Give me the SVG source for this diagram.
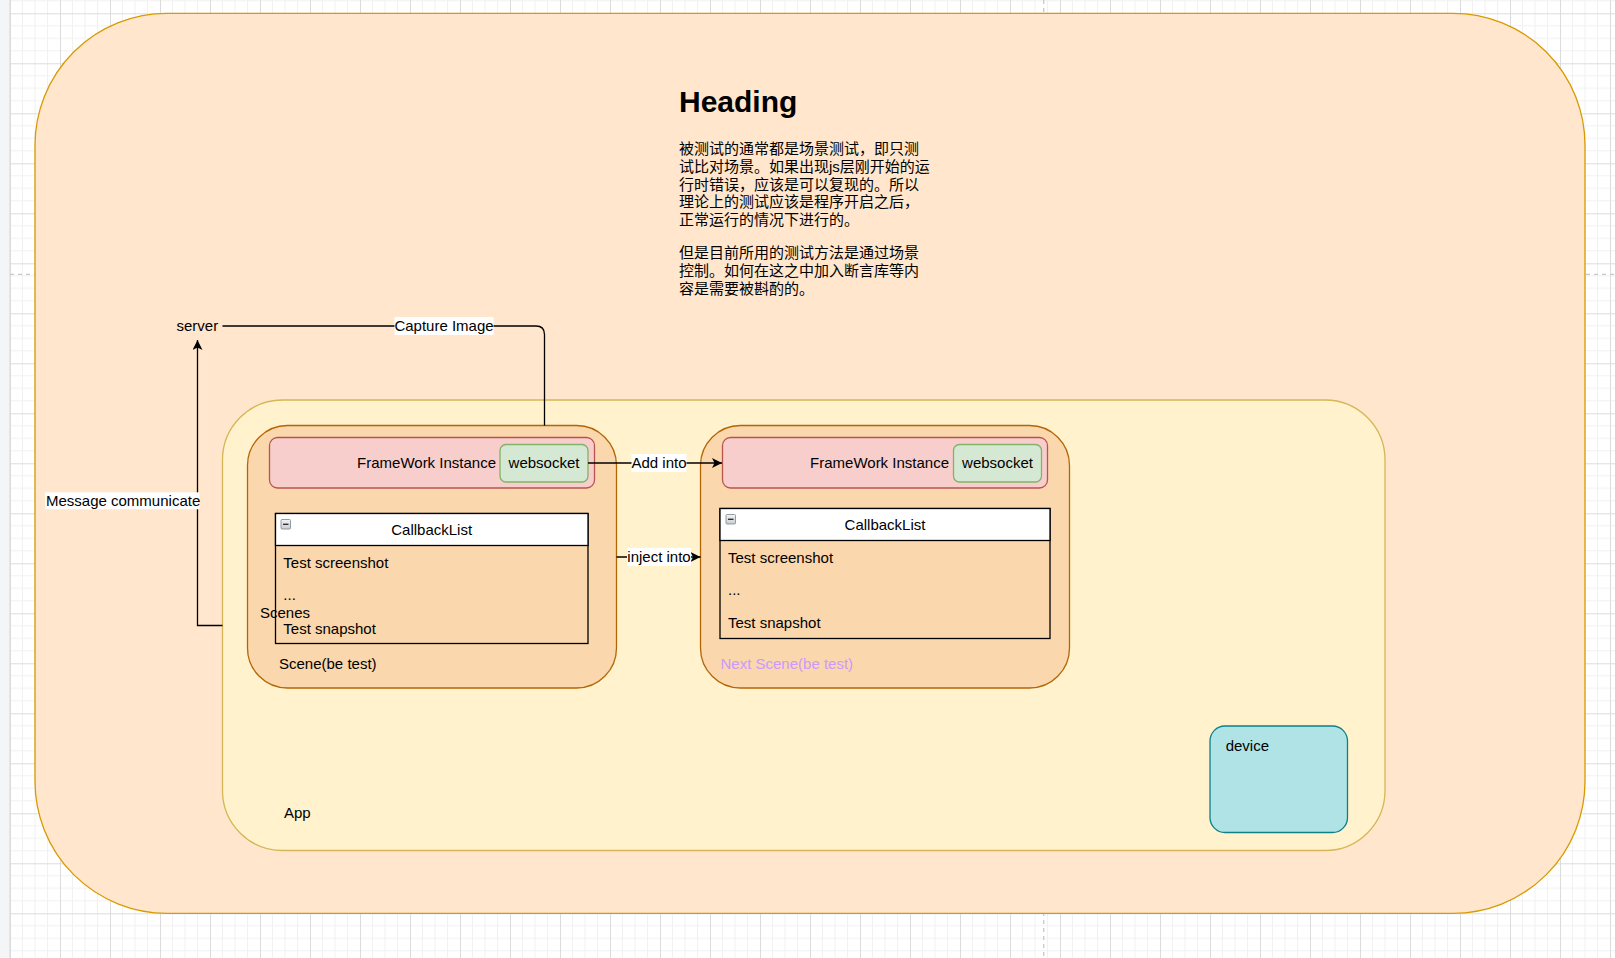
<svg xmlns="http://www.w3.org/2000/svg" width="1615" height="958" viewBox="0 0 1615 958">
<defs>
<pattern id="grid" patternUnits="userSpaceOnUse" x="10" y="13.3" width="50" height="50">
<rect width="50" height="50" fill="#ffffff"/>
<path d="M12.5 0V50M25 0V50M37.5 0V50M0 12.5H50M0 25H50M0 37.5H50" stroke="#f1f1f1" stroke-width="1" fill="none"/>
<path d="M0.5 0V50M0 0.5H50" stroke="#dcdcdc" stroke-width="1" fill="none"/>
</pattern>
<marker id="arr" viewBox="0 0 10 10" refX="10" refY="5" markerWidth="10" markerHeight="10" markerUnits="userSpaceOnUse" orient="auto">
<path d="M0 0L10 5L0 10L2.5 5Z" fill="#000"/>
</marker>
<linearGradient id="icon" x1="0" y1="0" x2="0" y2="1">
<stop offset="0" stop-color="#f4f4f4"/>
<stop offset="1" stop-color="#c8cdd4"/>
</linearGradient>
</defs>
<style>
text{font-family:"Liberation Sans",Arial,sans-serif;font-size:15px;fill:#000}
.cjk{font-family:"Liberation Sans","Noto Sans CJK SC",sans-serif;font-size:15px}
.scene{fill:#fad7ac;stroke:#b46504;stroke-width:1.3}
.fw{fill:#f8cecc;stroke:#b85450;stroke-width:1.3}
.ws{fill:#d5e8d4;stroke:#82b366;stroke-width:1.3}
.list{fill:#fad7ac;stroke:#000;stroke-width:1.3}
.lhead{fill:#ffffff;stroke:#000;stroke-width:1.3}
.edge{fill:none;stroke:#000;stroke-width:1.3}
.lbl{fill:#ffffff}
.pb{stroke:#c8c8c8;stroke-width:1.3;stroke-dasharray:4 4;fill:none}
</style>
<rect x="0" y="0" width="1615" height="958" fill="url(#grid)"/>
<rect x="0" y="0" width="9.5" height="958" fill="#f4f5f6"/>
<line x1="9.5" y1="0" x2="9.5" y2="958" stroke="#e4e6e8" stroke-width="1"/>
<path class="pb" d="M1043.7 0V958M10 274.3H1615"/>

<g id="outer">
<rect x="35" y="13.3" width="1550" height="900" rx="132" ry="132" fill="#ffe6cc" stroke="#d79b00" stroke-width="1.3"/>
</g>

<g id="heading">
<text x="679" y="111.5" style="font-size:30px;font-weight:bold">Heading</text>
<text class="cjk"><tspan x="679" y="153.8">被测试的通常都是场景测试，即只测</tspan><tspan x="679" y="171.6">试比对场景。如果出现js层刚开始的运</tspan><tspan x="679" y="189.6">行时错误，应该是可以复现的。所以</tspan><tspan x="679" y="207.3">理论上的测试应该是程序开启之后，</tspan><tspan x="679" y="225.3">正常运行的情况下进行的。</tspan></text>
<text class="cjk"><tspan x="679" y="258.2">但是目前所用的测试方法是通过场景</tspan><tspan x="679" y="276.2">控制。如何在这之中加入断言库等内</tspan><tspan x="679" y="293.8">容是需要被斟酌的。</tspan></text>
</g>

<g id="app">
<rect x="222.5" y="400" width="1162.5" height="450.5" rx="60" ry="60" fill="#fff2cc" stroke="#d6b656" stroke-width="1.3"/>
<text x="284" y="818">App</text>
</g>

<g id="server">
<text x="176.5" y="331.3">server</text>
</g>

<g id="scene1">
<rect class="scene" x="247.5" y="425.5" width="369" height="262.5" rx="40" ry="40"/>
<text x="279" y="668.5">Scene(be test)</text>
</g>

<g id="fw1">
<rect class="fw" x="269.5" y="437.5" width="325" height="50.5" rx="8" ry="8"/>
<text x="496" y="468" text-anchor="end">FrameWork Instance</text>
</g>
<g id="ws1">
<rect class="ws" x="500" y="444.5" width="88" height="37.5" rx="6" ry="6"/>
<text x="544" y="468" text-anchor="middle">websocket</text>
</g>

<g id="list1">
<rect class="list" x="275.5" y="513.5" width="312.5" height="130"/>
<rect class="lhead" x="275.5" y="513.5" width="312.5" height="32"/>
<rect x="281" y="519.5" width="9.5" height="9.5" rx="1" fill="url(#icon)" stroke="#7a8591" stroke-width="0.8"/>
<line x1="283" y1="524.3" x2="288.5" y2="524.3" stroke="#333" stroke-width="1.4"/>
<text x="431.7" y="534.5" text-anchor="middle">CallbackList</text>
<text x="283.3" y="568">Test screenshot</text>
<text x="283.3" y="600">...</text>
<text x="283.3" y="633.5">Test snapshot</text>
</g>

<g id="scenes-label">
<text x="260" y="618">Scenes</text>
</g>

<g id="scene2">
<rect class="scene" x="700.5" y="425.5" width="369" height="262.5" rx="40" ry="40"/>
<text x="720.5" y="668.5" style="fill:#cc99ff">Next Scene(be test)</text>
</g>

<g id="fw2">
<rect class="fw" x="722.5" y="437.5" width="325" height="50.5" rx="8" ry="8"/>
<text x="949" y="468" text-anchor="end">FrameWork Instance</text>
</g>
<g id="ws2">
<rect class="ws" x="953.5" y="444.5" width="88" height="37.5" rx="6" ry="6"/>
<text x="997.5" y="468" text-anchor="middle">websocket</text>
</g>

<g id="list2">
<rect class="list" x="720" y="508.5" width="330" height="130"/>
<rect class="lhead" x="720" y="508.5" width="330" height="32"/>
<rect x="726" y="514.5" width="9.5" height="9.5" rx="1" fill="url(#icon)" stroke="#7a8591" stroke-width="0.8"/>
<line x1="728" y1="519.3" x2="733.5" y2="519.3" stroke="#333" stroke-width="1.4"/>
<text x="885" y="530" text-anchor="middle">CallbackList</text>
<text x="728" y="563">Test screenshot</text>
<text x="728" y="595">...</text>
<text x="728" y="628">Test snapshot</text>
</g>

<g id="device">
<rect x="1210" y="726" width="137.5" height="106.5" rx="15" ry="15" fill="#b0e3e6" stroke="#0e8088" stroke-width="1.3"/>
<text x="1225.7" y="750.5">device</text>
</g>

<g id="connectors">
<path class="edge" d="M544.5 425.5V334.5Q544.5 326 536 326H222.5"/>
<rect class="lbl" x="394.5" y="317" width="99" height="18"/>
<text x="444" y="331.3" text-anchor="middle">Capture Image</text>
<path class="edge" d="M222.5 625.5H197.5V340" marker-end="url(#arr)"/>
<rect class="lbl" x="45" y="492.3" width="154.5" height="17"/>
<text x="46" y="506.3">Message communicate</text>
<path class="edge" d="M588 463H722" marker-end="url(#arr)"/>
<rect class="lbl" x="631.5" y="454" width="55" height="18"/>
<text x="659" y="468.3" text-anchor="middle">Add into</text>
<path class="edge" d="M616.5 557H700.5" marker-end="url(#arr)"/>
<rect class="lbl" x="627" y="548" width="64" height="18"/>
<text x="659" y="562" text-anchor="middle">inject into</text>
</g>
</svg>
